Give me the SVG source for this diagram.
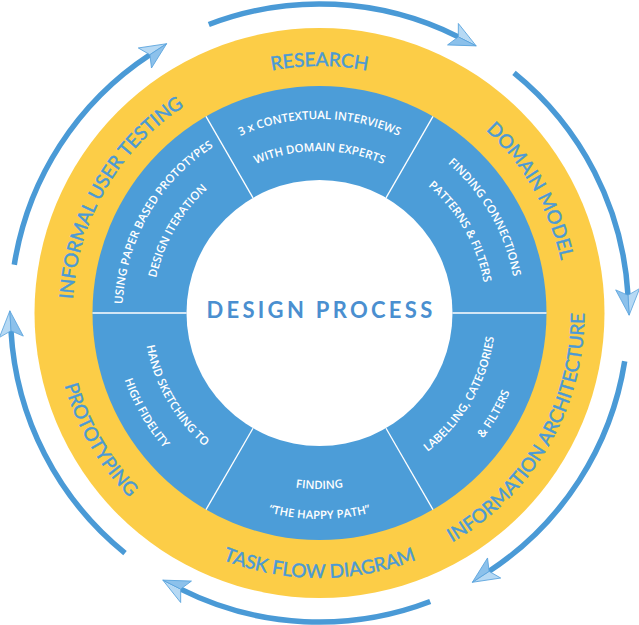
<svg xmlns="http://www.w3.org/2000/svg" xmlns:xlink="http://www.w3.org/1999/xlink" width="639" height="625" viewBox="0 0 639 625">
<style>
.stage{font-family:Lato,"Open Sans","DejaVu Sans",sans-serif;font-size:19px;fill:#4A9AD6;stroke:#4A9AD6;stroke-width:0.45px;text-anchor:middle}
.note{font-family:"Open Sans","Noto Sans","DejaVu Sans",sans-serif;font-size:11.5px;font-weight:600;fill:#ffffff;text-anchor:middle}
.sep{stroke:#ffffff;stroke-width:1.3}
.arrow{fill:none;stroke:#4A9AD6;stroke-width:5.5;marker-end:url(#head)}
</style>
<defs>
<marker id="head" markerUnits="userSpaceOnUse" viewBox="-1 -14 29 28" refX="6" refY="0" markerWidth="29" markerHeight="28" orient="auto">
<polygon points="6,0 0,-12 26,0" fill="#B6D9F4" stroke="#5AA4DD" stroke-width="0.8" stroke-linejoin="round"/>
<polygon points="6,0 26,0 0,12" fill="#8CC1EB" stroke="#5AA4DD" stroke-width="0.8" stroke-linejoin="round"/>
</marker>
<path id="cw247" d="M319.5,560 A247,247 0 1 1 319.5,66 A247,247 0 1 1 319.5,560"/>
<path id="cw194" d="M319.5,507 A194,194 0 1 1 319.5,119 A194,194 0 1 1 319.5,507"/>
<path id="cw162" d="M319.5,475 A162,162 0 1 1 319.5,151 A162,162 0 1 1 319.5,475"/>
<path id="cw197" d="M319.5,510 A197,197 0 1 1 319.5,116 A197,197 0 1 1 319.5,510"/>
<path id="cw167" d="M319.5,480 A167,167 0 1 1 319.5,146 A167,167 0 1 1 319.5,480"/>
<path id="ccw265" d="M319.5,48 A265,265 0 1 0 319.5,578 A265,265 0 1 0 319.5,48"/>
<path id="ccw176" d="M319.5,137 A176,176 0 1 0 319.5,489 A176,176 0 1 0 319.5,137"/>
<path id="ccw206" d="M319.5,107 A206,206 0 1 0 319.5,519 A206,206 0 1 0 319.5,107"/>
</defs>
<rect width="639" height="625" fill="#ffffff"/>
<g id="rings">
<circle cx="319.5" cy="313" r="285" fill="#FCCD47"/>
<circle cx="319.5" cy="313" r="227" fill="#4C9DD8"/>
<circle cx="319.5" cy="313" r="133" fill="#ffffff"/>
<line class="sep" x1="452.5" y1="313" x2="546.5" y2="313"/>
<line class="sep" x1="386" y1="428.2" x2="433" y2="509.6"/>
<line class="sep" x1="253" y1="428.2" x2="206" y2="509.6"/>
<line class="sep" x1="186.5" y1="313" x2="92.5" y2="313"/>
<line class="sep" x1="253" y1="197.8" x2="206" y2="116.4"/>
<line class="sep" x1="386" y1="197.8" x2="433" y2="116.4"/>
</g>
<g id="center">
<text x="321" y="318" font-family="Lato,'Open Sans',sans-serif" font-size="22" font-weight="700" letter-spacing="3.3" fill="#4A8FD0" text-anchor="middle">DESIGN PROCESS</text>
</g>
<g id="research">
<text class="stage"><textPath xlink:href="#cw247" href="#cw247" startOffset="50%">RESEARCH</textPath></text>
<text class="note"><textPath xlink:href="#cw194" href="#cw194" startOffset="50%">3 x CONTEXTUAL INTERVIEWS</textPath></text>
<text class="note"><textPath xlink:href="#cw162" href="#cw162" startOffset="50%">WITH DOMAIN EXPERTS</textPath></text>
</g>
<g id="domain-model" transform="rotate(60 319.5 313)">
<text class="stage"><textPath xlink:href="#cw247" href="#cw247" startOffset="50%">DOMAIN MODEL</textPath></text>
<text class="note"><textPath xlink:href="#cw197" href="#cw197" startOffset="50%">FINDING CONNECTIONS</textPath></text>
<text class="note"><textPath xlink:href="#cw167" href="#cw167" startOffset="50%">PATTERNS &amp; FILTERS</textPath></text>
</g>
<g id="information-architecture" transform="rotate(-60 319.5 313)">
<text class="stage"><textPath xlink:href="#ccw265" href="#ccw265" startOffset="50%">INFORMATION ARCHITECTURE</textPath></text>
<text class="note"><textPath xlink:href="#ccw176" href="#ccw176" startOffset="50%">LABELLING, CATEGORIES</textPath></text>
<text class="note"><textPath xlink:href="#ccw206" href="#ccw206" startOffset="50%">&amp; FILTERS</textPath></text>
</g>
<g id="task-flow-diagram">
<text class="stage"><textPath xlink:href="#ccw265" href="#ccw265" startOffset="50%">TASK FLOW DIAGRAM</textPath></text>
<text class="note"><textPath xlink:href="#ccw176" href="#ccw176" startOffset="50%">FINDING</textPath></text>
<text class="note"><textPath xlink:href="#ccw206" href="#ccw206" startOffset="50%">“THE HAPPY PATH”</textPath></text>
</g>
<g id="prototyping" transform="rotate(60 319.5 313)">
<text class="stage"><textPath xlink:href="#ccw265" href="#ccw265" startOffset="50%">PROTOTYPING</textPath></text>
<text class="note"><textPath xlink:href="#ccw176" href="#ccw176" startOffset="50%">HAND SKETCHING TO</textPath></text>
<text class="note"><textPath xlink:href="#ccw206" href="#ccw206" startOffset="50%">HIGH FIDELITY</textPath></text>
</g>
<g id="informal-user-testing" transform="rotate(-60 319.5 313)">
<text class="stage"><textPath xlink:href="#cw247" href="#cw247" startOffset="50%">INFORMAL USER TESTING</textPath></text>
<text class="note"><textPath xlink:href="#cw197" href="#cw197" startOffset="50%">USING PAPER BASED PROTOTYPES</textPath></text>
<text class="note"><textPath xlink:href="#cw167" href="#cw167" startOffset="50%">DESIGN ITERATION</textPath></text>
</g>
<g id="connectors">
<path class="arrow" d="M208.8,24.5 A309,309 0 0 1 458.3,36.9"/>
<path class="arrow" d="M514,72.9 A309,309 0 0 1 628,295.2"/>
<path class="arrow" d="M624.7,361.3 A309,309 0 0 1 489.1,571.3"/>
<path class="arrow" d="M430.2,601.5 A309,309 0 0 1 180.7,589.1"/>
<path class="arrow" d="M125,553.1 A309,309 0 0 1 11,330.8"/>
<path class="arrow" d="M14.3,264.7 A309,309 0 0 1 149.9,54.7"/>
</g>
</svg>
